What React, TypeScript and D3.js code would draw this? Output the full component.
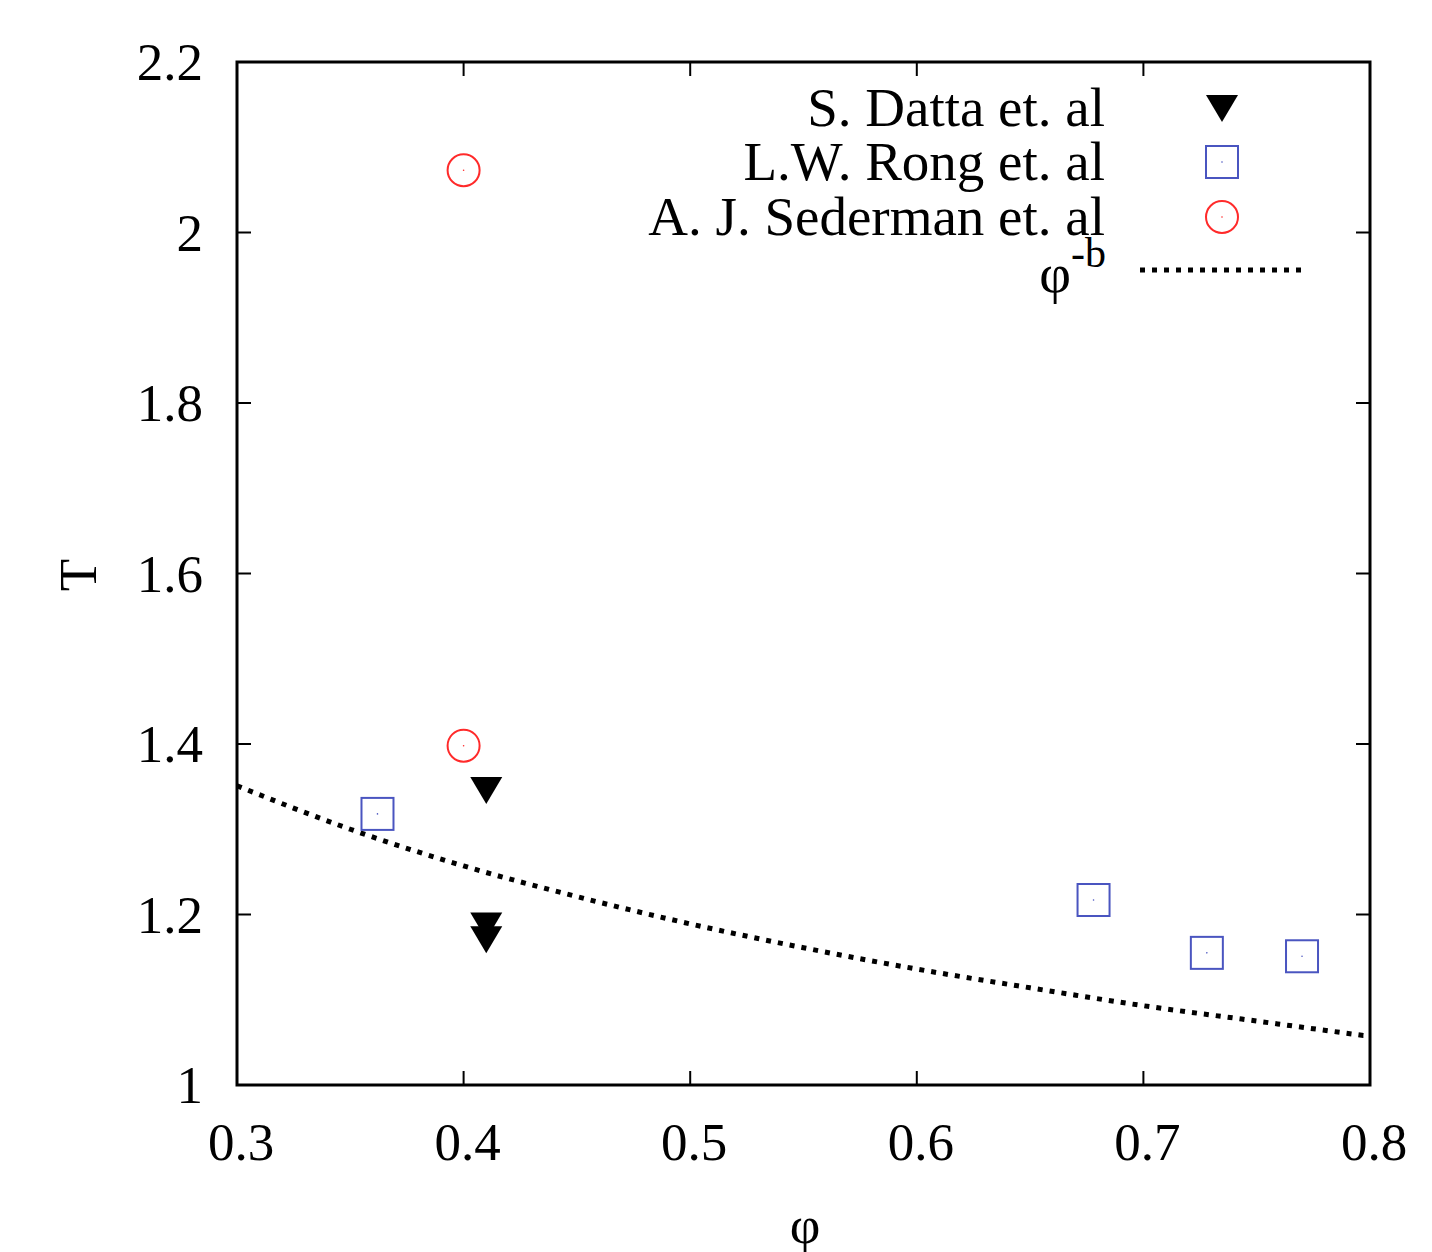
import React from "react";
import * as d3 from "d3";

const xTicks = [0.3, 0.4, 0.5, 0.6, 0.7, 0.8];
const yTicks = [1, 1.2, 1.4, 1.6, 1.8, 2, 2.2];
const yTickLabels = ["1", "1.2", "1.4", "1.6", "1.8", "2", "2.2"];

const dattaPhi = [0.41, 0.41, 0.41];
const dattaT = [1.346, 1.187, 1.171];

const rongPhi = [0.362, 0.678, 0.728, 0.77];
const rongT = [1.318, 1.217, 1.155, 1.151];

const sedermanPhi = [0.4, 0.4];
const sedermanT = [2.073, 1.398];

const fitPhi = [0.3, 0.35, 0.4, 0.45, 0.5, 0.55, 0.6, 0.65, 0.7, 0.75, 0.8];
const fitT = [1.351, 1.300, 1.257, 1.221, 1.189, 1.161, 1.136, 1.114, 1.093, 1.075, 1.057];

const legendLabels = ["S. Datta et. al", "L.W. Rong et. al", "A. J. Sederman et. al"];

const W = 1432;
const H = 1252;
const L = 237, R = 1370, T = 62, B = 1085;
const FONT = "'Liberation Serif', 'Times New Roman', serif";

export default function App() {
  const x = d3.scaleLinear().domain([0.3, 0.8]).range([L, R]);
  const y = d3.scaleLinear().domain([1, 2.2]).range([B, T]);
  const line = d3
    .line<number>()
    .x((_, i) => x(fitPhi[i]))
    .y((d) => y(d))
    .curve(d3.curveMonotoneX);
  const tick = 14;
  const blue = "#4a55c0";
  const red = "#ff2a2a";
  const tri = (cx: number, cy: number) =>
    `M${cx - 16},${cy - 13}L${cx + 16},${cy - 13}L${cx},${cy + 14}Z`;

  const legendY = [108, 162, 217];
  const legendTextX = 1105;
  const legendSymX = 1222;

  return (
    <svg
      width={W}
      height={H}
      style={{ position: "absolute", left: 0, top: 0, background: "#fff" }}
      fontFamily={FONT}
    >
      <rect x={0} y={0} width={W} height={H} fill="#fff" />
      {xTicks.map((t, i) => (
        <g key={"xt" + i}>
          <line x1={x(t)} x2={x(t)} y1={B} y2={B - tick} stroke="#000" strokeWidth={2} />
          <line x1={x(t)} x2={x(t)} y1={T} y2={T + tick} stroke="#000" strokeWidth={2} />
          <text x={x(t) + 4} y={1160} fontSize={53} textAnchor="middle" fill="#000">
            {t.toFixed(1)}
          </text>
        </g>
      ))}
      {yTicks.map((t, i) => (
        <g key={"yt" + i}>
          <line x1={L} x2={L + tick} y1={y(t)} y2={y(t)} stroke="#000" strokeWidth={2} />
          <line x1={R} x2={R - tick} y1={y(t)} y2={y(t)} stroke="#000" strokeWidth={2} />
          <text x={203} y={y(t) + 18} fontSize={53} textAnchor="end" fill="#000">
            {yTickLabels[i]}
          </text>
        </g>
      ))}
      <path
        d={line(fitT) || ""}
        fill="none"
        stroke="#000"
        strokeWidth={5}
        strokeDasharray="5 7"
      />
      {dattaT.map((v, i) => (
        <path key={"d" + i} d={tri(x(dattaPhi[i]), y(v))} fill="#000" />
      ))}
      {rongT.map((v, i) => (
        <g key={"r" + i}>
          <rect
            x={x(rongPhi[i]) - 16}
            y={y(v) - 16}
            width={32}
            height={32}
            fill="none"
            stroke={blue}
            strokeWidth={2}
          />
          <circle cx={x(rongPhi[i])} cy={y(v)} r={0.8} fill={blue} />
        </g>
      ))}
      {sedermanT.map((v, i) => (
        <g key={"s" + i}>
          <circle cx={x(sedermanPhi[i])} cy={y(v)} r={16} fill="none" stroke={red} strokeWidth={2} />
          <circle cx={x(sedermanPhi[i])} cy={y(v)} r={0.8} fill={red} />
        </g>
      ))}
      <rect x={L} y={T} width={R - L} height={B - T} fill="none" stroke="#000" strokeWidth={3} />
      {legendLabels.map((s, i) => (
        <text key={"l" + i} x={legendTextX} y={legendY[i] + 18} fontSize={55} textAnchor="end" fill="#000">
          {s}
        </text>
      ))}
      <path d={tri(legendSymX, legendY[0])} fill="#000" />
      <rect x={legendSymX - 16} y={legendY[1] - 16} width={32} height={32} fill="none" stroke={blue} strokeWidth={2} />
      <circle cx={legendSymX} cy={legendY[1]} r={0.8} fill={blue} />
      <circle cx={legendSymX} cy={legendY[2]} r={16} fill="none" stroke={red} strokeWidth={2} />
      <circle cx={legendSymX} cy={legendY[2]} r={0.8} fill={red} />
      <text x={1071} y={292} fontSize={55} textAnchor="end" fill="#000">
        φ
      </text>
      <text x={1071} y={267} fontSize={42} textAnchor="start" fill="#000">
        -b
      </text>
      <line x1={1140} x2={1305} y1={270} y2={270} stroke="#000" strokeWidth={5} strokeDasharray="5 7" />
      <text
        transform={`translate(96,575) rotate(-90)`}
        fontSize={53}
        textAnchor="middle"
        fill="#000"
      >
        T
      </text>
      <text x={805} y={1243} fontSize={53} textAnchor="middle" fill="#000">
        φ
      </text>
    </svg>
  );
}
